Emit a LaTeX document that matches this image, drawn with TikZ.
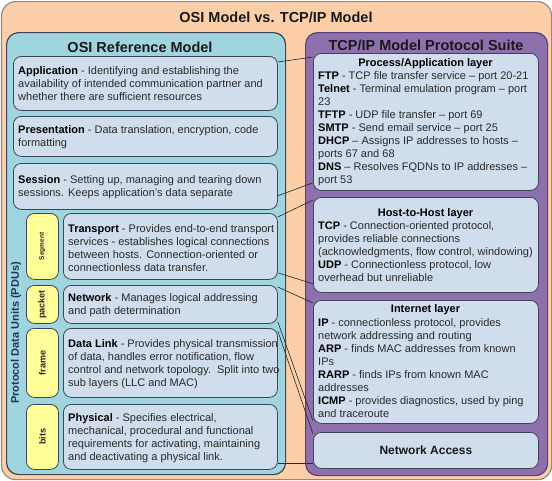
\documentclass[tikz,border=0pt]{standalone}
\usepackage{fontspec}
\setmainfont{Liberation Sans}
\definecolor{peach}{HTML}{FCCFA8}
\definecolor{osiblue}{HTML}{A0D4DF}
\definecolor{tcppurple}{HTML}{8F70AE}
\definecolor{purpleline}{HTML}{5A3F78}
\definecolor{boxfill}{HTML}{D0DDEC}
\definecolor{boxline}{HTML}{3C4656}
\definecolor{pduyellow}{HTML}{FFFF99}
\definecolor{txtgray}{HTML}{2A2A2A}
\definecolor{pdutext}{HTML}{1F3560}
\pgfdeclarelayer{bg}
\pgfdeclarelayer{conn}
\pgfsetlayers{bg,conn,main}
\begin{document}
\begin{tikzpicture}[x=1pt,y=-1pt,
 panel/.style={rounded corners=12pt, line width=1.2pt, inner sep=0pt, anchor=north west},
 layer/.style={draw=boxline, fill=boxfill, rounded corners=8pt, line width=0.8pt, inner sep=0pt, anchor=north west},
 pdutab/.style={draw=boxline, fill=pduyellow, rounded corners=8pt, line width=0.8pt, inner sep=0pt, anchor=north west},
 body/.style={font=\fontsize{11}{13}\selectfont, text=txtgray, align=left, anchor=north west, inner sep=0pt},
 head/.style={font=\bfseries\fontsize{11}{13}\selectfont, text=black, anchor=base, inner sep=0pt},
 bigtitle/.style={font=\bfseries\fontsize{14.5}{16}\selectfont, text=black!90, inner sep=0pt},
 tablabel/.style={rotate=90, font=\bfseries\fontsize{9}{10}\selectfont, text=black!85, inner sep=0pt},
 link/.style={draw=black!85, line width=0.6pt},
]
\newcommand\bt[1]{\textbf{\color{black}#1}}
\useasboundingbox (0,0) rectangle (552,480);

\begin{pgfonlayer}{bg}
\node[panel, draw=black!45, fill=peach, rounded corners=14pt, minimum width=550pt, minimum height=478pt] (outer) at (1,1) {};
\node[panel, draw=boxline, fill=osiblue, minimum width=279pt, minimum height=442pt] (osipanel) at (6,32) {};
\node[panel, draw=purpleline, fill=tcppurple, minimum width=242pt, minimum height=443pt] (tcppanel) at (305,32) {};
\end{pgfonlayer}

\node[bigtitle] (maintitle) at (276,17) {OSI Model vs. TCP/IP Model};
\node[bigtitle] (osititle) at (140,47) {OSI Reference Model};
\node[bigtitle] (tcptitle) at (426,45) {TCP/IP Model Protocol Suite};

% OSI layers
\node[layer, minimum width=264pt, minimum height=54pt] (app) at (13,56) {};
\node[layer, minimum width=264pt, minimum height=40pt] (pres) at (13,116) {};
\node[layer, minimum width=264pt, minimum height=46pt] (sess) at (13,163) {};
\node[layer, minimum width=214pt, minimum height=66pt] (trans) at (63,213) {};
\node[layer, minimum width=214pt, minimum height=38pt] (net) at (63,285) {};
\node[layer, minimum width=214pt, minimum height=69pt] (dlink) at (63,328) {};
\node[layer, minimum width=214pt, minimum height=65pt] (phys) at (63,404) {};

\node[pdutab, minimum width=32pt, minimum height=66pt] (segtab) at (26,213) {};
\node[pdutab, minimum width=32pt, minimum height=38pt] (pkttab) at (26,285) {};
\node[pdutab, minimum width=32pt, minimum height=69pt] (frmtab) at (26,328) {};
\node[pdutab, minimum width=32pt, minimum height=65pt] (bittab) at (26,404) {};

\node[tablabel, font=\bfseries\fontsize{6.5}{8}\selectfont] (seglbl) at (segtab.center) {Segment};
\node[tablabel] (pktlbl) at (pkttab.center) {packet};
\node[tablabel] (frmlbl) at (frmtab.center) {frame};
\node[tablabel] (bitlbl) at (bittab.center) {bits};

\node[rotate=90, font=\bfseries\fontsize{11}{13}\selectfont, text=pdutext, inner sep=0pt] (pdu) at (16,333) {Protocol Data Units (PDUs)};

\node[body] (apptxt) at (18,64.9) {\strut\bt{Application} - Identifying and establishing the\\availability of intended communication partner and\\whether there are sufficient resources};
\node[body] (prestxt) at (18,123.9) {\strut\bt{Presentation} - Data translation, encryption, code\\formatting};
\node[body] (sesstxt) at (18,173.9) {\strut\bt{Session} - Setting up, managing and tearing down\\sessions. Keeps application's data separate};
\node[body] (transtxt) at (68,222.9) {\strut\bt{Transport} - Provides end-to-end transport\\services - establishes logical connections\\between hosts. Connection-oriented or\\connectionless data transfer.};
\node[body] (nettxt) at (68,291.9) {\strut\bt{Network} - Manages logical addressing\\and path determination};
\node[body] (dlinktxt) at (68,337.9) {\strut\bt{Data Link} - Provides physical transmission\\of data, handles error notification, flow\\control and network topology.\ \ Split into two\\sub layers (LLC and MAC)};
\node[body] (phystxt) at (68,411.9) {\strut\bt{Physical} - Specifies electrical,\\mechanical, procedural and functional\\requirements for activating, maintaining\\and deactivating a physical link.};

% TCP/IP layers
\node[layer, minimum width=225pt, minimum height=137pt] (proc) at (313,53) {};
\node[layer, minimum width=225pt, minimum height=95pt] (host) at (313,197) {};
\node[layer, minimum width=225pt, minimum height=123pt] (inet) at (313,300) {};
\node[layer, minimum width=225pt, minimum height=36pt] (nacc) at (313,432) {};

\node[head] (prochead) at (425.5,66) {Process/Application layer};
\node[body] (proctxt) at (318,69.9) {\strut\bt{FTP} - TCP file transfer service -- port 20-21\\\bt{Telnet} - Terminal emulation program -- port\\23\\\bt{TFTP} - UDP file transfer -- port 69\\\bt{SMTP} - Send email service -- port 25\\\bt{DHCP} -- Assigns IP addresses to hosts --\\ports 67 and 68\\\bt{DNS} -- Resolves FQDNs to IP addresses --\\port 53};

\node[head] (hosthead) at (425.5,216) {Host-to-Host layer};
\node[body] (hosttxt) at (318,219.9) {\strut\bt{TCP} - Connection-oriented protocol,\\provides reliable connections\\(acknowledgments, flow control, windowing)\\\bt{UDP} - Connectionless protocol, low\\overhead but unreliable};

\node[head] (inethead) at (425.5,312) {Internet layer};
\node[body] (inettxt) at (318,316.9) {\strut\bt{IP} - connectionless protocol, provides\\network addressing and routing\\\bt{ARP} - finds MAC addresses from known\\IPs\\\bt{RARP} - finds IPs from known MAC\\addresses\\\bt{ICMP} - provides diagnostics, used by ping\\and traceroute};

\node[font=\bfseries\fontsize{12}{14}\selectfont, text=black!90, inner sep=0pt] (nacctxt) at (nacc.center) {Network Access};

% connectors
\begin{pgfonlayer}{conn}
\draw[link] ([yshift=-6pt]app.north east) -- ([yshift=-4pt]proc.north west);
\draw[link] ([yshift=14pt]sess.south east) -- ([yshift=8pt]proc.south west);
\draw[link] ([yshift=-4pt]trans.north east) -- ([yshift=-3pt]host.north west);
\draw[link] ([yshift=7pt]trans.south east) -- ([yshift=9pt]host.south west);
\draw[link] ([yshift=-2pt]net.north east) -- ([yshift=-3pt]inet.north west);
\draw[link] ([yshift=2pt]net.south east) -- ([yshift=3pt]inet.south west);
\draw[link] ([yshift=-3pt]dlink.north east) -- ([yshift=-2pt]nacc.north west);
\draw[link] ([yshift=7pt]phys.south east) -- ([yshift=6pt]nacc.south west);
\end{pgfonlayer}
\end{tikzpicture}
\end{document}
